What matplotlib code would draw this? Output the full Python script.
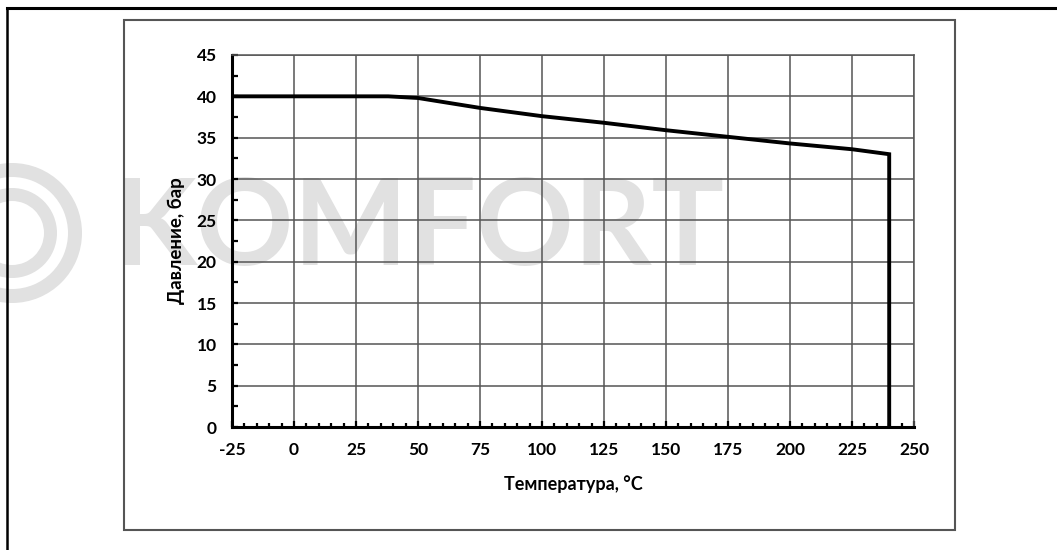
import matplotlib
matplotlib.use('Agg')
import matplotlib.pyplot as plt
from matplotlib.patches import Rectangle, Wedge
from matplotlib.lines import Line2D
from matplotlib.ticker import MultipleLocator

# данные: температура (°C) и давление (бар)
temps = [-25, 38, 50, 75, 100, 125, 150, 175, 200, 225, 240, 240]
press = [40, 40, 39.8, 38.6, 37.6, 36.8, 35.9, 35.1, 34.3, 33.6, 33.0, 0]

x_ticks = [-25, 0, 25, 50, 75, 100, 125, 150, 175, 200, 225, 250]
y_ticks = [0, 5, 10, 15, 20, 25, 30, 35, 40, 45]

x_label = 'Температура, °C'
y_label = 'Давление, бар'
watermark = 'KOMFORT'

plt.rcParams['font.family'] = ['Lato', 'DejaVu Sans']
plt.rcParams['axes.unicode_minus'] = False

W, H = 1057, 550
fig = plt.figure(figsize=(W / 100, H / 100), dpi=100)

# водяной знак
fig.text(113 / W, 1 - 230 / H, watermark, fontsize=87, color='#e1e1e1',
         ha='left', va='center', fontweight='bold', zorder=-3)
for r_out, w in [(70, 14), (45, 13)]:
    ring = Wedge((12, H - 233), r_out, 0, 360, width=w, transform=None,
                 facecolor='#e1e1e1', edgecolor='none', zorder=-3)
    fig.patches.append(ring)

# рамки
fig.patches.append(Rectangle((124, H - 530), 955 - 124, 510, transform=None,
                             fill=False, edgecolor='#555555', lw=1.5, zorder=-1))
fig.lines.append(Line2D([7, W], [H - 8, H - 8], transform=None, color='black', lw=2.2))
fig.lines.append(Line2D([7, 7], [H - 8, 0], transform=None, color='black', lw=1.8))

ax = fig.add_axes([232 / W, 123 / H, (914 - 232) / W, (427 - 55) / H])
ax.set_facecolor('none')

ax.plot(temps, press, color='black', lw=2.8, solid_joinstyle='miter', zorder=5)

ax.set_xlim(-25, 250)
ax.set_ylim(0, 45)
ax.set_xticks(x_ticks)
ax.set_yticks(y_ticks)
ax.xaxis.set_minor_locator(MultipleLocator(5))
ax.yaxis.set_minor_locator(MultipleLocator(2.5))

ax.grid(True, which='major', color='#555555', lw=1.1)
ax.set_axisbelow(True)

for s in ['top', 'right']:
    ax.spines[s].set_color('#555555')
    ax.spines[s].set_linewidth(1.1)
for s in ['left', 'bottom']:
    ax.spines[s].set_color('black')
    ax.spines[s].set_linewidth(2.2)

ax.tick_params(axis='both', which='major', direction='in', length=4, width=1.6,
               labelsize=12.5, colors='black', pad=11)
ax.tick_params(axis='both', which='minor', direction='in', length=3, width=1.6)
ax.tick_params(axis='y', which='both', length=4)
for lbl in ax.get_xticklabels() + ax.get_yticklabels():
    lbl.set_fontweight('bold')

ax.set_xlabel(x_label, fontsize=13, fontweight='bold', labelpad=12)
ax.set_ylabel(y_label, fontsize=13.5, fontweight='bold', labelpad=8)

fig.savefig('out.png', dpi=100)
